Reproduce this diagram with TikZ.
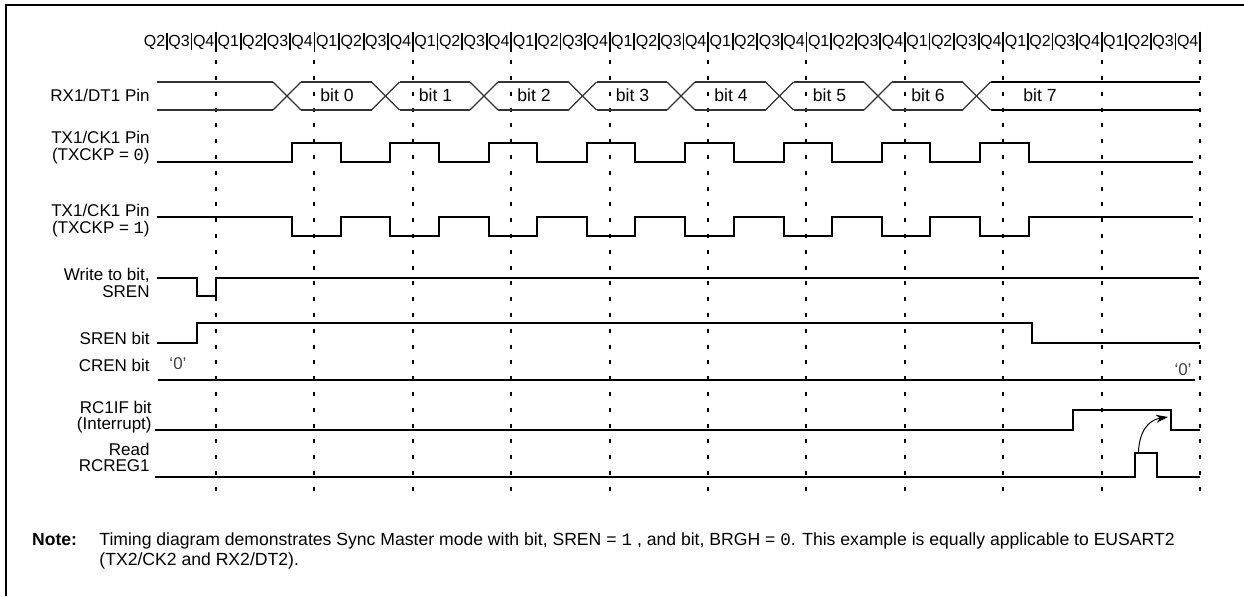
\documentclass[tikz,border=0pt]{standalone}
\usepackage{fontspec}
\setmainfont{Liberation Sans}
\setmonofont{Liberation Mono}
\usetikzlibrary{arrows.meta}
\begin{document}
\begin{tikzpicture}[x=0.5pt,y=-0.5pt,
  sig/.style={line width=1pt, line join=miter},
  busline/.style={line width=0.65pt, black!80},
  gridline/.style={line width=1pt, dash pattern=on 2pt off 5.9pt},
  qsep/.style={line width=0.9pt},
  lab/.style={font=\fontsize{8.5}{8.25}\selectfont, align=right, anchor=east, inner sep=0pt},
  qlab/.style={font=\fontsize{8}{9}\selectfont, inner sep=0pt},
  bitlab/.style={font=\fontsize{8.8}{10}\selectfont, inner sep=0pt},
  notefont/.style={font=\fontsize{8.8}{10}\selectfont, inner sep=0pt, anchor=base west},
  zero/.style={font=\fontsize{8.5}{10}\selectfont, inner sep=0pt, black!75}
]
\useasboundingbox (0,0) rectangle (1244,596);
% frame
\draw[line width=1.2pt] (6,596) -- (6,5) -- (1244,5);

% Q labels and separators
\foreach \j in {0,...,42}{
  \pgfmathtruncatemacro\q{mod(\j+1,4)+1}
  \node[qlab] (q\j) at ({142.2+24.6*(\j+0.5)},42) {Q\q};
}
\foreach \j in {1,...,43}{
  \pgfmathtruncatemacro\m{mod(\j,4)}
  \ifnum\m=3
    \draw[qsep] ({142.2+24.6*\j},31.5) -- ({142.2+24.6*\j},52);
  \else
    \draw[qsep] ({142.2+24.6*\j},33) -- ({142.2+24.6*\j},50);
  \fi
}
% dashed cycle boundaries
\foreach \k in {0,...,10}{
  \draw[gridline] ({216+98.4*\k},60.1) -- ({216+98.4*\k},493);
}

% RX1/DT1 bus
\draw[busline] (157,82) -- (273,82);
\draw[busline] (157,110) -- (273,110);
\foreach \k in {0,...,7}{
  \pgfmathsetmacro\c{287+98.5*\k}
  \draw[busline] ({\c-14},82) -- ({\c+14},110);
  \draw[busline] ({\c-14},110) -- ({\c+14},82);
}
\foreach \k in {0,...,6}{
  \pgfmathsetmacro\c{287+98.5*\k}
  \draw[busline] ({\c+14},82) -- ({\c+98.5-14},82);
  \draw[busline] ({\c+14},110) -- ({\c+98.5-14},110);
  \node[bitlab] (b\k) at ({\c+50},95.5) {bit \k};
}
\draw[busline, black] ({287+98.5*7+14},82) -- (1200,82);
\draw[busline, black] ({287+98.5*7+14},110) -- (1200,110);
\node[bitlab] (b7) at (1040,95.5) {bit 7};

% TX1/CK1 TXCKP=0
\draw[sig] (157,161.7) \foreach \k in {0,...,7}{
  -- ({292+98.3*\k},161.7) -- ({292+98.3*\k},143.3)
  -- ({340.5+98.3*\k},143.3) -- ({340.5+98.3*\k},161.7)} -- (1193,161.7);
% TX1/CK1 TXCKP=1
\draw[sig] (157,216.7) \foreach \k in {0,...,7}{
  -- ({292+98.3*\k},216.7) -- ({292+98.3*\k},236)
  -- ({340.5+98.3*\k},236) -- ({340.5+98.3*\k},216.7)} -- (1193,216.7);
% Write to bit SREN
\draw[sig] (157,278.3) -- (196.7,278.3) -- (196.7,295.7) -- (216,295.7) -- (216,278.3) -- (1199,278.3);
% SREN bit
\draw[sig] (157,342.7) -- (197.3,342.7) -- (197.3,323.3) -- (1031.7,323.3) -- (1031.7,342.7) -- (1200,342.7);
% CREN bit
\draw[sig] (158,380) -- (1195,380);
% RC1IF
\draw[sig] (155,430) -- (1072.7,430) -- (1072.7,410) -- (1170.7,410) -- (1170.7,430) -- (1200,430);
% Read RCREG1
\draw[sig] (155,476.7) -- (1135,476.7) -- (1135,452.7) -- (1156.7,452.7) -- (1156.7,476.7) -- (1200,476.7);
% arrow
\coordinate (rdtop) at (1138.5,452.7);
\coordinate (iftip) at (1168,417);
\draw[line width=0.5pt, -{Stealth[length=6pt,width=4pt]}] (rdtop) .. controls (1139,432) and (1148,420) .. (iftip);

% labels
\node[lab] (lrx) at (150,95) {RX1/DT1 Pin};
\node[lab] (ltx0) at (150,147.5) {TX1/CK1 Pin\\(TXCKP = {\ttfamily 0})};
\node[lab] (ltx1) at (150,220.5) {TX1/CK1 Pin\\(TXCKP = {\ttfamily 1})};
\node[lab] (lwr) at (150,283) {Write to bit,\\SREN};
\node[lab] (lsren) at (150,338.5) {SREN bit};
\node[lab] (lcren) at (150,365) {CREN bit};
\node[zero] (z1) at (178,364) {‘0’};
\node[zero] (z2) at (1183,370) {‘0’};
\node[lab] (lrc) at (152,417) {RC1IF bit\\(Interrupt)};
\node[lab] (lrd) at (150,457.5) {Read\\RCREG1};

% note
\node[notefont] (note) at (31.7,545) {\textbf{Note:}};
\node[notefont] (n1) at (99,545) {Timing diagram demonstrates Sync Master mode with bit, SREN = {\ttfamily 1} , and bit, BRGH = {\ttfamily 0}. This example is equally applicable to EUSART2};
\node[notefont] (n2) at (99,565) {(TX2/CK2 and RX2/DT2).};
\end{tikzpicture}
\end{document}
